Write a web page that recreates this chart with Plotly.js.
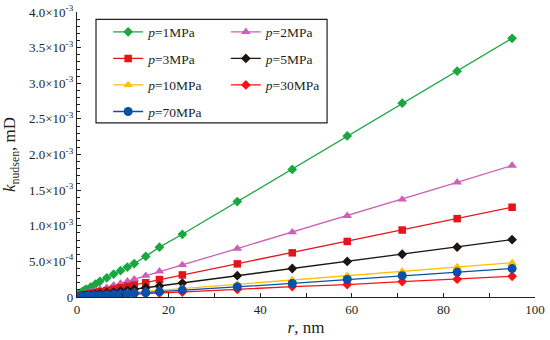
<!DOCTYPE html>
<html>
<head>
<meta charset="utf-8">
<script src="https://cdn.plot.ly/plotly-3.0.1.min.js"></script>
<style>html,body{margin:0;padding:0;background:#fff}#chart{width:550px;height:340px}</style>
</head>
<body>
<div id="chart"></div>
<script>
// pore radius, nm
const r = [0.5, 1, 1.5, 2, 3, 4, 5, 6.5, 8, 9.5, 11, 12.5, 15, 18, 23, 35, 47, 59, 71, 83, 95];
// Knudsen permeability, in units of 1e-3 mD
const p1  = [0.05, 0.07, 0.09, 0.11, 0.14, 0.18, 0.22, 0.27, 0.32, 0.37, 0.42, 0.47, 0.57, 0.70, 0.88, 1.34, 1.79, 2.26, 2.72, 3.17, 3.63];
const p2  = [0.02, 0.03, 0.04, 0.05, 0.07, 0.09, 0.11, 0.13, 0.165, 0.19, 0.22, 0.25, 0.30, 0.36, 0.45, 0.68, 0.91, 1.14, 1.37, 1.61, 1.845];
const p3  = [0.015, 0.02, 0.03, 0.035, 0.05, 0.06, 0.075, 0.09, 0.11, 0.13, 0.15, 0.17, 0.20, 0.245, 0.31, 0.465, 0.62, 0.78, 0.94, 1.10, 1.26];
const p5  = [0.01, 0.015, 0.02, 0.025, 0.03, 0.04, 0.05, 0.06, 0.07, 0.085, 0.095, 0.11, 0.13, 0.155, 0.195, 0.30, 0.40, 0.50, 0.60, 0.70, 0.805];
const p10 = [0.005, 0.008, 0.01, 0.013, 0.018, 0.022, 0.028, 0.035, 0.043, 0.05, 0.058, 0.066, 0.078, 0.093, 0.12, 0.18, 0.24, 0.30, 0.36, 0.42, 0.48];
const p30 = [0.003, 0.005, 0.006, 0.008, 0.01, 0.013, 0.016, 0.02, 0.025, 0.03, 0.034, 0.038, 0.046, 0.055, 0.07, 0.107, 0.147, 0.175, 0.217, 0.25, 0.29];
const p70 = [0.004, 0.006, 0.008, 0.01, 0.014, 0.018, 0.022, 0.028, 0.034, 0.04, 0.047, 0.053, 0.063, 0.076, 0.097, 0.145, 0.19, 0.245, 0.30, 0.35, 0.40];
const yTickVals = [0, 0.5, 1.0, 1.5, 2.0, 2.5, 3.0, 3.5, 4.0];
const yTickText = ['0', '5.0×10<sup>-4</sup>', '1.0×10<sup>-3</sup>', '1.5×10<sup>-3</sup>', '2.0×10<sup>-3</sup>',
  '2.5×10<sup>-3</sup>', '3.0×10<sup>-3</sup>', '3.5×10<sup>-3</sup>', '4.0×10<sup>-3</sup>'];
const xTickVals = [0, 20, 40, 60, 80, 100];

const SCALE = 1e-3;
const toMD = a => a.map(v => v * SCALE);

function tr(y, name, color, symbol, size, legend, group) {
  return {
    x: r, y: toMD(y), name: name, type: 'scatter', mode: 'lines+markers',
    line: {color: color, width: 1.3},
    marker: {color: color, symbol: symbol, size: size},
    legend: legend, legendgroup: group
  };
}

const data = [
  tr(p1,  '<i>p</i>=1MPa',  '#19a83f', 'diamond',     7.5, 'legend',  'a'),
  tr(p2,  '<i>p</i>=2MPa',  '#cc5fb8', 'triangle-up', 8.5, 'legend2', 'b'),
  tr(p3,  '<i>p</i>=3MPa',  '#e5141b', 'square',      7.5, 'legend',  'c'),
  tr(p5,  '<i>p</i>=5MPa',  '#1c1512', 'diamond',     7.5, 'legend2', 'd'),
  tr(p10, '<i>p</i>=10MPa', '#ffc000', 'triangle-up', 8.5, 'legend',  'e'),
  tr(p30, '<i>p</i>=30MPa', '#ff1010', 'diamond',     7.5, 'legend2', 'f'),
  tr(p70, '<i>p</i>=70MPa', '#0b50a8', 'circle',      9,   'legend',  'g')
];

const font = {family: '"Liberation Serif", "Times New Roman", serif', color: '#231f20'};
const legCommon = {
  bgcolor: 'rgba(0,0,0,0)', borderwidth: 0, tracegroupgap: 6,
  font: Object.assign({size: 13.5}, font), yanchor: 'top', xanchor: 'left',
  traceorder: 'grouped', itemwidth: 30, itemsizing: 'trace'
};

const layout = {
  width: 550, height: 340,
  margin: {l: 77, r: 15, t: 12, b: 43},
  paper_bgcolor: '#fff', plot_bgcolor: '#fff',
  font: Object.assign({size: 13}, font),
  showlegend: true,
  legend: Object.assign({x: 0.068, y: 0.984}, legCommon),
  legend2: Object.assign({x: 0.325, y: 0.984}, legCommon),
  shapes: [{type: 'rect', xref: 'paper', yref: 'paper', x0: 0.0415, x1: 0.546, y0: 0.611, y1: 0.974,
    line: {color: '#231f20', width: 1.2}, fillcolor: 'rgba(0,0,0,0)'}],
  xaxis: {
    range: [0, 100], tickvals: xTickVals, ticks: 'inside', ticklen: 4, tickwidth: 1, tickcolor: '#231f20',
    showline: true, linecolor: '#231f20', linewidth: 1.2, showgrid: false, zeroline: false,
    minor: {dtick: 10, tick0: 0, ticks: 'inside', ticklen: 4, tickcolor: '#231f20', showgrid: false},
    tickfont: Object.assign({size: 13}, font),
    title: {text: '<i>r</i>, nm', font: Object.assign({size: 17}, font), standoff: 5}
  },
  yaxis: {
    range: [0, 0.004], tickvals: yTickVals.map(v => v * SCALE), ticktext: yTickText,
    ticks: 'inside', ticklen: 4, tickwidth: 1, tickcolor: '#231f20',
    showline: true, linecolor: '#231f20', linewidth: 1.2, showgrid: false, zeroline: false,
    minor: {dtick: 0.0001, tick0: 0, ticks: 'inside', ticklen: 2.5, tickcolor: '#231f20', showgrid: false},
    tickfont: Object.assign({size: 13}, font),
    title: {text: '<i>k</i><sub>nudsen</sub>, mD', font: Object.assign({size: 17}, font), standoff: 19}
  }
};

Plotly.newPlot('chart', data, layout, {displayModeBar: false, staticPlot: true});
</script>
</body>
</html>
